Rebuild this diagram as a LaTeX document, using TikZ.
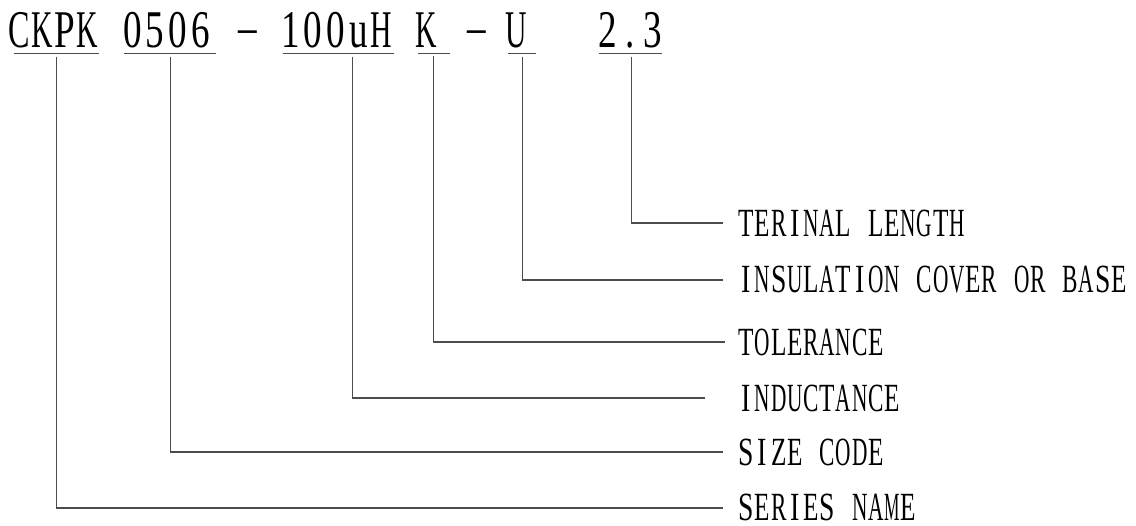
\documentclass[tikz,border=0pt]{standalone}
\usepackage{graphicx}
\usepackage{fontspec}
\setmainfont{Liberation Serif}
\newfontfamily\codefont[FakeStretch=0.7]{Liberation Serif}
\newfontfamily\labelfont[FakeStretch=0.7]{Liberation Serif}

% every character in a cell of the same width
\newlength\cellw
\newcommand\monotext[2]{\setlength\cellw{#1}\monoloop#2\relax}
\def\monoloop#1{\ifx#1\relax\else\monocell{#1}\expandafter\monoloop\fi}
\newcommand\monocell[1]{\sbox0{#1}%
    \ifdim\wd0>0.95\cellw
        \makebox[\cellw]{\resizebox{0.95\cellw}{\ht0}{\usebox0}}%
    \else
        \makebox[\cellw]{\usebox0}%
    \fi}

\begin{document}
\begin{tikzpicture}[
        x=1pt, y=-1pt,
        codeBlock/.style={
            inner sep=0pt, anchor=base west,
            font=\fontsize{53}{56}\codefont
        },
        labelBlock/.style={
            inner sep=0pt, anchor=west,
            font=\fontsize{40}{44}\labelfont
        },
        rule/.style={
            line width=1.1pt, draw=black!70
        }
    ]
        \useasboundingbox (0,0) rectangle (1136,526);

        % Part number
        \node (series) [codeBlock] at (8,48) {\monotext{22.6pt}{CKPK}};
        \node (size) [codeBlock] at (121,48) {\monotext{22.6pt}{0506}};
        \node (dashA) [codeBlock] at (238,45) {\textendash};
        \node (ind) [codeBlock] at (279,48) {\monotext{22.6pt}{100uH}};
        \node (tol) [codeBlock] at (415,48) {\monotext{22.6pt}{K}};
        \node (dashB) [codeBlock] at (467,45) {\textendash};
        \node (ins) [codeBlock] at (505,48) {\monotext{22.6pt}{U}};
        \node (term) [codeBlock] at (596,48) {\monotext{22.6pt}{2.3}};

        % Labels
        \node (lblterm) [labelBlock] at (738,223) {\monotext{16.2pt}{TERINAL~LENGTH}};
        \node (lblins) [labelBlock] at (738,280) {\monotext{16.2pt}{INSULATION~COVER~OR~BASE}};
        \node (lbltol) [labelBlock] at (738,342) {\monotext{16.2pt}{TOLERANCE}};
        \node (lblind) [labelBlock] at (738,398) {\monotext{16.2pt}{INDUCTANCE}};
        \node (lblsize) [labelBlock] at (738,452) {\monotext{16.2pt}{SIZE~CODE}};
        \node (lblseries) [labelBlock] at (738,507) {\monotext{16.2pt}{SERIES~NAME}};

        % Underlines
        \draw [rule] ([xshift=6pt, yshift=-5pt]series.south west) -- ([yshift=-5pt]series.south east);
        \draw [rule] ([xshift=3pt, yshift=-5pt]size.south west) -- ([xshift=4pt, yshift=-5pt]size.south east);
        \draw [rule] ([xshift=4pt, yshift=-5pt]ind.south west) -- ([xshift=2pt, yshift=-5pt]ind.south east);
        \draw [rule] ([xshift=3pt, yshift=-5pt]tol.south west) -- ([xshift=12pt, yshift=-5pt]tol.south east);
        \draw [rule] ([xshift=3pt, yshift=-5pt]ins.south west) -- ([xshift=8pt, yshift=-5pt]ins.south east);
        \draw [rule] ([xshift=3pt, yshift=-5pt]term.south west) -- ([xshift=-2pt, yshift=-5pt]term.south east);

        % Leaders
        \draw [rule] ([xshift=3pt, yshift=-8pt]series.south) |- ([xshift=-15pt, yshift=-1pt]lblseries.west);
        \draw [rule] ([xshift=4pt, yshift=-8pt]size.south) |- ([xshift=-15pt]lblsize.west);
        \draw [rule] ([xshift=17pt, yshift=-8pt]ind.south) |- ([xshift=-33pt]lblind.west);
        \draw [rule] ([xshift=7pt, yshift=-8pt]tol.south) |- ([xshift=-13pt]lbltol.west);
        \draw [rule] ([xshift=6pt, yshift=-8pt]ins.south) |- ([xshift=-15pt]lblins.west);
        \draw [rule] ([xshift=1pt, yshift=-8pt]term.south) |- ([xshift=-15pt]lblterm.west);
    \end{tikzpicture}
\end{document}
